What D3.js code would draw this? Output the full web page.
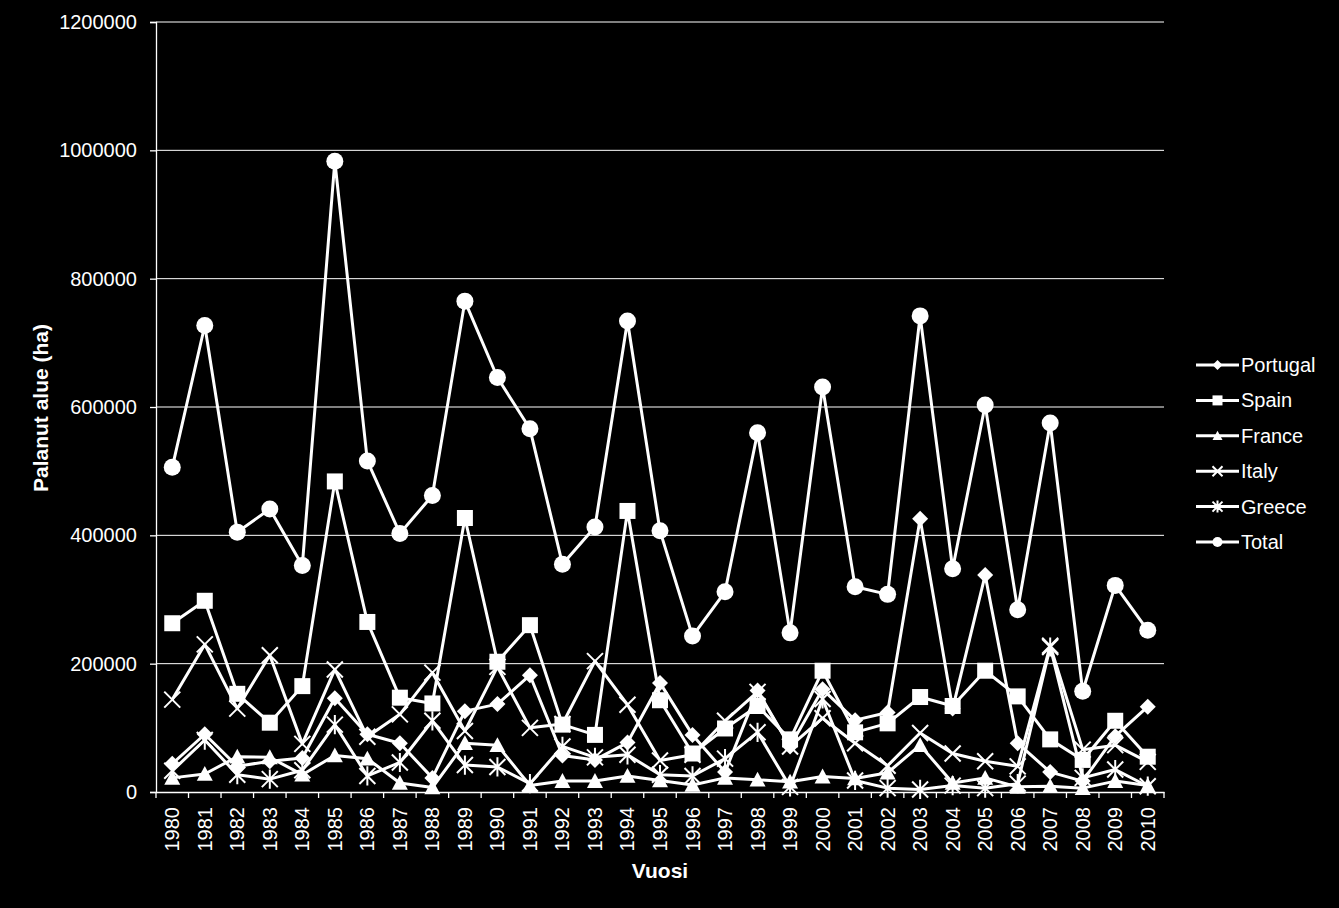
<!DOCTYPE html>
<html lang="fi">
<head>
  <meta charset="utf-8">
  <title>Palanut alue</title>
  <script src="https://d3js.org/d3.v7.min.js"></script>
  <style>
    body { margin: 0; background: #000; }
    #chart text { font-family: "Liberation Sans", Arial, sans-serif; fill: #fff; }
  </style>
</head>
<body>
  <div id="chart"></div>

  <script>
    "use strict"

    // vuodet ja sarjat (ha)
    var vuodet = [1980, 1981, 1982, 1983, 1984, 1985, 1986, 1987, 1988, 1989, 1990,
                  1991, 1992, 1993, 1994, 1995, 1996, 1997, 1998, 1999, 2000,
                  2001, 2002, 2003, 2004, 2005, 2006, 2007, 2008, 2009, 2010];

    var portugal = [44000, 90000, 40000, 48000, 53000, 146000, 90000, 76000, 22000, 126000, 137000,
                    182000, 57000, 50000, 77000, 170000, 89000, 31000, 158000, 71000, 160000,
                    112000, 124000, 426000, 130000, 338000, 76000, 31000, 17000, 87000, 133000];

    var spain = [263000, 298000, 153000, 108000, 165000, 484000, 265000, 147000, 138000, 427000, 203000,
                 260000, 105000, 89000, 438000, 143000, 60000, 99000, 134000, 82000, 189000,
                 93000, 107000, 148000, 134000, 189000, 149000, 82000, 50000, 111000, 55000];

    var france = [22000, 28000, 55000, 54000, 27000, 57000, 52000, 14000, 7000, 76000, 73000,
                  10000, 17000, 17000, 25000, 18000, 11000, 22000, 19000, 16000, 24000,
                  21000, 30000, 73000, 14000, 22000, 8000, 9000, 6000, 17000, 10000];

    var italy = [144000, 230000, 130000, 213000, 75000, 191000, 86000, 121000, 186000, 95000, 195000,
                 100000, 106000, 204000, 136000, 49000, 58000, 111000, 156000, 71000, 115000,
                 76000, 41000, 92000, 60000, 48000, 40000, 228000, 66000, 73000, 47000];

    var greece = [33000, 81000, 27000, 20000, 34000, 105000, 25000, 46000, 111000, 42000, 39000,
                  13000, 71000, 54000, 58000, 27000, 25000, 52000, 93000, 8000, 145000,
                  18000, 6000, 4000, 10000, 6000, 13000, 226000, 22000, 35000, 9000];

    var total = [506000, 727000, 405000, 441000, 353000, 983000, 516000, 403000, 462000, 765000, 646000,
                 566000, 355000, 413000, 734000, 407000, 243000, 312000, 560000, 248000, 631000,
                 320000, 308000, 742000, 348000, 603000, 284000, 575000, 157000, 322000, 252000];

    var yTicks = [0, 200000, 400000, 600000, 800000, 1000000, 1200000];

    var sarjat = [
      {nimi: "Portugal", arvot: portugal, merkki: "diamond"},
      {nimi: "Spain", arvot: spain, merkki: "square"},
      {nimi: "France", arvot: france, merkki: "triangle"},
      {nimi: "Italy", arvot: italy, merkki: "x"},
      {nimi: "Greece", arvot: greece, merkki: "star"},
      {nimi: "Total", arvot: total, merkki: "circle"}
    ];

    function merkkiPolku(tyyppi, s) {
      switch (tyyppi) {
        case "diamond": return "M0," + (-s) + "L" + s + ",0L0," + s + "L" + (-s) + ",0Z";
        case "square": return "M" + (-s) + "," + (-s) + "H" + s + "V" + s + "H" + (-s) + "Z";
        case "triangle": return "M0," + (-s) + "L" + s + "," + (s * 0.85) + "L" + (-s) + "," + (s * 0.85) + "Z";
        case "x": return "M" + (-s) + "," + (-s) + "L" + s + "," + s + "M" + (-s) + "," + s + "L" + s + "," + (-s);
        case "star": return "M" + (-s) + "," + (-s) + "L" + s + "," + s + "M" + (-s) + "," + s + "L" + s + "," + (-s) +
                            "M0," + (-s * 1.2) + "L0," + (s * 1.2);
      }
    }

    function piirraMerkki(g, tyyppi, s) {
      if (tyyppi === "circle") {
        g.append("circle").attr("r", s).style("fill", "#fff");
      } else if (tyyppi === "x" || tyyppi === "star") {
        g.append("path").attr("d", merkkiPolku(tyyppi, s))
          .style("fill", "none").style("stroke", "#fff").style("stroke-width", 2);
      } else {
        g.append("path").attr("d", merkkiPolku(tyyppi, s)).style("fill", "#fff");
      }
    }

    function piirraKaavio() {
      var leveys = 1339, korkeus = 908;
      var vasen = 156, oikea = 1164, yla = 22, ala = 792;

      var svg = d3.select("#chart").append("svg")
        .attr("width", leveys)
        .attr("height", korkeus)
        .style("background", "#000");

      var x = d3.scaleBand().domain(vuodet).range([vasen, oikea]).padding(0);
      var y = d3.scaleLinear().domain([0, 1200000]).range([ala, yla]);
      var keski = d => x(d) + x.bandwidth() / 2;

      // ruudukko
      svg.append("g").selectAll("line")
        .data(yTicks.slice(1))
        .enter().append("line")
          .attr("x1", vasen).attr("x2", oikea)
          .attr("y1", d => y(d)).attr("y2", d => y(d))
          .style("stroke", "#fff").style("stroke-width", 1);

      // y-akseli
      var yAks = svg.append("g")
        .attr("transform", "translate(" + vasen + ",0)")
        .call(d3.axisLeft(y).tickValues(yTicks).tickFormat(d3.format("d")).tickSize(6).tickPadding(13));
      yAks.selectAll("path, line").style("stroke", "#fff").style("stroke-width", 1.3);
      yAks.selectAll("text").style("font-size", "20px").style("fill", "#fff");

      // x-akseli
      var xAks = svg.append("g")
        .attr("transform", "translate(0," + ala + ")")
        .call(d3.axisBottom(x).tickSize(0).tickPadding(0));
      xAks.select(".domain").style("stroke", "#fff").style("stroke-width", 1.3);
      xAks.selectAll("text")
        .style("font-size", "20px").style("fill", "#fff")
        .attr("transform", "rotate(-90)")
        .attr("text-anchor", "end")
        .attr("x", -15).attr("y", 0).attr("dy", "0.35em");

      xAks.selectAll(".valiviiva")
        .data(vuodet.concat(["loppu"]))
        .enter().append("line")
          .attr("class", "valiviiva")
          .attr("x1", d => d === "loppu" ? oikea : x(d))
          .attr("x2", d => d === "loppu" ? oikea : x(d))
          .attr("y1", 0).attr("y2", 6)
          .style("stroke", "#fff").style("stroke-width", 1.3);

      // viivat ja merkit
      var viiva = d3.line().x((d, i) => keski(vuodet[i])).y(d => y(d));

      sarjat.forEach(function(s) {
        var g = svg.append("g");
        g.append("path")
          .attr("d", viiva(s.arvot))
          .style("fill", "none").style("stroke", "#fff").style("stroke-width", 3)
          .style("stroke-linejoin", "round");
        g.selectAll("g.merkki")
          .data(s.arvot)
          .enter().append("g")
            .attr("class", "merkki")
            .attr("transform", (d, i) => "translate(" + keski(vuodet[i]) + "," + y(d) + ")")
            .each(function() { piirraMerkki(d3.select(this), s.merkki, s.merkki === "circle" ? 8.5 : 8); });
      });

      // akselien otsikot
      svg.append("text")
        .attr("transform", "translate(48," + ((yla + ala) / 2 + 1) + ") rotate(-90)")
        .attr("text-anchor", "middle")
        .style("font-size", "21px").style("font-weight", "bold")
        .text("Palanut alue (ha)");

      svg.append("text")
        .attr("x", 660).attr("y", 878)
        .attr("text-anchor", "middle")
        .style("font-size", "21px").style("font-weight", "bold")
        .text("Vuosi");

      // selite
      var selite = svg.append("g").attr("transform", "translate(1196,365)");
      sarjat.forEach(function(s, i) {
        var r = selite.append("g").attr("transform", "translate(0," + (i * 35.4) + ")");
        r.append("line").attr("x1", 0).attr("x2", 43).attr("y1", 0).attr("y2", 0)
          .style("stroke", "#fff").style("stroke-width", 3);
        var m = r.append("g").attr("transform", "translate(21.5,0)");
        piirraMerkki(m, s.merkki, 5);
        r.append("text")
          .attr("x", 45).attr("y", 0).attr("dy", "0.35em")
          .style("font-size", "20px")
          .text(s.nimi);
      });
    }

    piirraKaavio();
  </script>
</body>
</html>
